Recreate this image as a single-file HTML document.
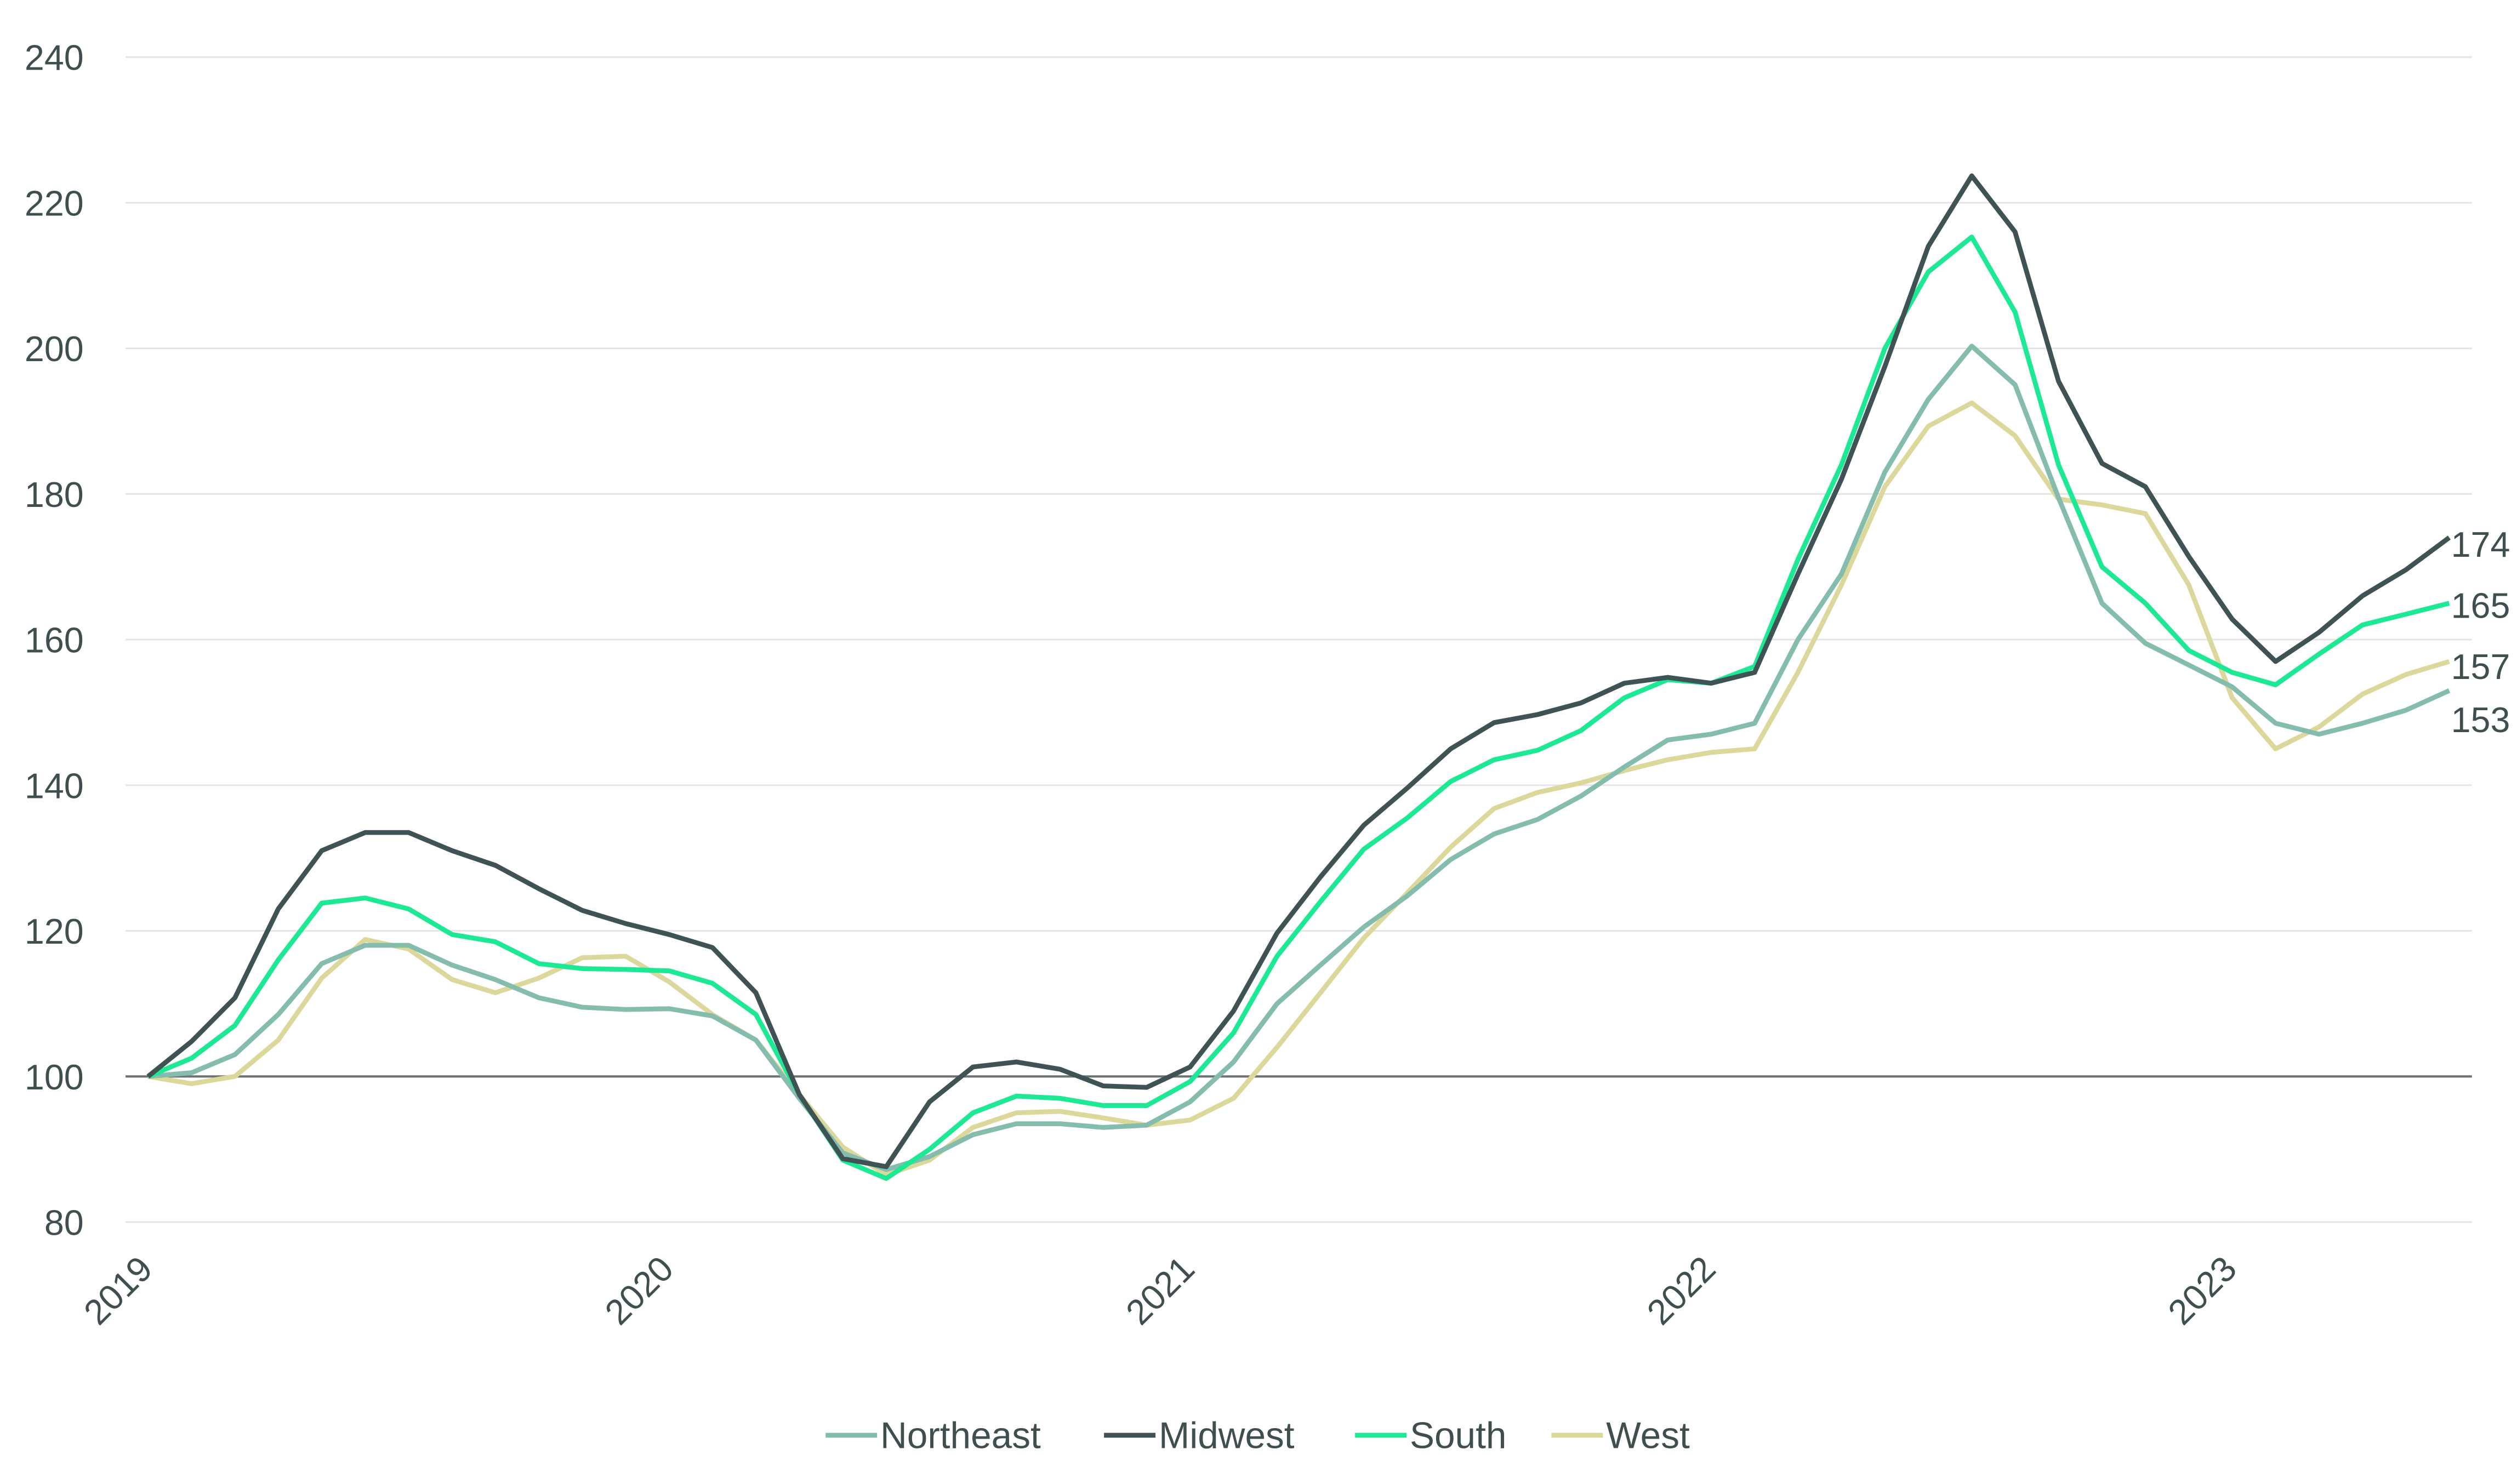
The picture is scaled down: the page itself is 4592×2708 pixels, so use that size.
<!DOCTYPE html>
<html><head><meta charset="utf-8"><style>
html,body{margin:0;padding:0;background:#fff;}
svg{display:block;font-family:"Liberation Sans",sans-serif;}
</style></head><body>
<svg id="chart" width="4592" height="2708" viewBox="0 0 1564 922.3" preserveAspectRatio="none" xmlns="http://www.w3.org/2000/svg">
<g id="grid"></g>
<g id="yaxis"></g>
<g id="xaxis"></g>
<g id="series"></g>
<g id="endlabels"></g>
<g id="legend"></g>
</svg>
<script>
const yTicks = [80,100,120,140,160,180,200,220,240];
const yearLabels = ["2019","2020","2021","2022","2023"];
const seriesNames = ["Northeast","Midwest","South","West"];
const northeast = [100,100.5,103,108.5,115.5,118,118,115.3,113.3,110.8,109.5,109.2,109.3,108.3,105,97,89.5,87.2,89,92,93.5,93.5,93,93.3,96.5,102,110,115.3,120.5,124.8,129.8,133.3,135.3,138.5,142.5,146.2,147,148.5,160,169,183,193,200.3,195,179.5,165,159.5,156.5,153.5,148.5,147,148.5,150.3,153];
const midwest = [100,104.8,110.8,123,131,133.5,133.5,131,129,125.8,122.8,121,119.5,117.7,111.5,97.5,88.7,87.6,96.5,101.3,102,101,98.7,98.5,101.3,109,119.7,127.4,134.5,139.6,145,148.6,149.7,151.3,154,154.8,154,155.5,169,182,197.5,214,223.7,216,195.5,184.2,181,171.4,162.8,157,161,166,169.6,174];
const south = [100,102.5,107,116,123.8,124.5,123,119.5,118.5,115.5,114.8,114.7,114.5,112.8,108.5,97.5,88.5,86,90,95,97.3,97,96,96,99.3,106,116.5,124,131.2,135.5,140.5,143.5,144.8,147.5,152,154.5,154,156.3,171,184,200,210.5,215.3,205,184,170,165,158.5,155.5,153.8,158,162,163.5,165];
const west = [100,99,100,105,113.5,118.8,117.5,113.3,111.5,113.5,116.3,116.5,113,108.5,105,97.5,90.3,86.5,88.5,93,95,95.2,94.3,93.3,94,97,104,111.5,119,125.2,131.5,136.8,139,140.3,142,143.5,144.5,145,155.5,167.5,181,189.3,192.5,188,179.3,178.5,177.3,167.5,152,145,148,152.5,155.2,157];
const endLabels = ["153","174","165","157"];

const NS="http://www.w3.org/2000/svg";
const colors=["#84bcae","#3f5254","#1de894","#dcd89c"];
const txt="#3f4f50";
function xS(i){return 92+i*26.98;}
function yS(v){return 669-(v-100)*4.525;}
function mk(tag,attrs,parent){const e=document.createElementNS(NS,tag);for(const k in attrs)e.setAttribute(k,attrs[k]);parent.appendChild(e);return e;}

const grid=document.getElementById('grid'),ya=document.getElementById('yaxis'),xa=document.getElementById('xaxis');
yTicks.forEach(v=>{
  const l=mk('line',{x1:78,x2:1536,y1:yS(v),y2:yS(v),stroke:v===100?'#6b7373':'#e4e4e4','stroke-width':v===100?1.4:1},grid);
  
  
  const t=mk('text',{x:52,y:yS(v)+8,'text-anchor':'end','font-size':22,fill:txt},ya);
  t.textContent=v;
  
  
});
yearLabels.forEach((y,k)=>{
  const x=xS(k*12)+4,yy=790;
  const t=mk('text',{x:x,y:yy,'text-anchor':'end','font-size':22,fill:txt,transform:`rotate(-45 ${x} ${yy})`},xa);
  t.textContent=y;
  
  
});
const data=[northeast,midwest,south,west];
const sg=document.getElementById('series');
[3,0,2,1].forEach(s=>{
  const pts=data[s].map((v,i)=>xS(i).toFixed(1)+','+yS(v).toFixed(1)).join(' ');
  const p=mk('polyline',{points:pts,fill:'none',stroke:colors[s],'stroke-width':3,'stroke-linejoin':'round'},sg);
  
  
});
const el=document.getElementById('endlabels');
const endY=[447,338,376,414];
data.forEach((d,s)=>{
  const t=mk('text',{x:1523,y:endY[s]+8,'font-size':22,fill:txt},el);
  t.textContent=endLabels[s];
  
  
});
const lg=document.getElementById('legend');
const lx=[513,686,842,964];
seriesNames.forEach((n,s)=>{
  const g=mk('g',{},lg);
  
  
  mk('line',{x1:lx[s],x2:lx[s]+32,y1:892,y2:892,stroke:colors[s],'stroke-width':3},g);
  const t=mk('text',{x:lx[s]+34,y:900,'font-size':23,fill:txt},g);
  t.textContent=n;
});
</script>
</body></html>
